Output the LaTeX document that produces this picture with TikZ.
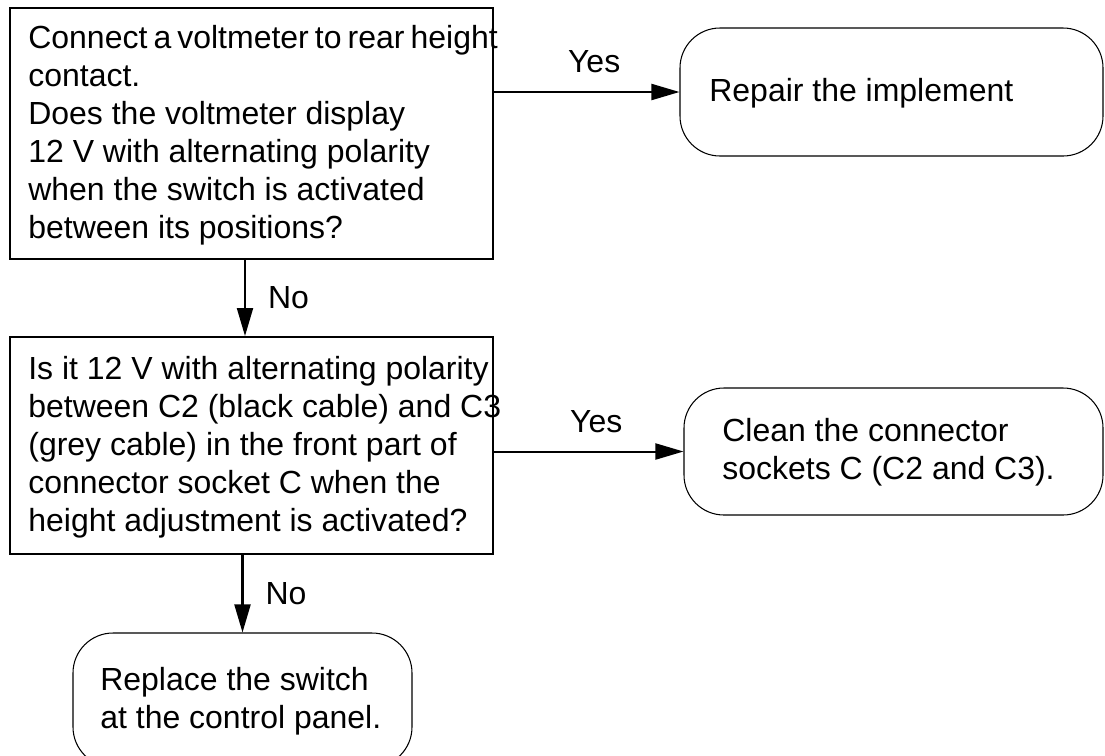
\documentclass[tikz,border=0pt]{standalone}
\usepackage{fontspec}
\setmainfont{Liberation Sans}
\usetikzlibrary{arrows.meta}
\newcommand\pu{0.02cm}
\newcommand\flowfont{\fontsize{18.2}{21.6}\selectfont}
\tikzset{
  qbox/.style={draw, line width=1.1pt, minimum width=483*\pu, inner sep=0pt},
  abox/.style={draw, line width=0.6pt, rounded corners=0.8cm, inner sep=0pt},
  txt/.style={anchor=west, align=left, inner sep=0pt, font=\flowfont},
  lbl/.style={inner sep=0pt, font=\flowfont},
  flow/.style={line width=1.15pt, -{Triangle[length=0.56cm,width=0.32cm]}}
}

\begin{document}
\begin{tikzpicture}[x=\pu, y=-\pu]
  \clip (0,0) rectangle (1105,755);
  % the two questions
  \node[qbox, minimum height=251*\pu] (q1) at (251.5,133.5) {};
  \node[txt] (q1t) at (28,135) {{\spaceskip=0.19em Connect a voltmeter to rear height}\\contact.\\Does the voltmeter display\\12 V with alternating polarity\\when the switch is activated\\between its positions?};
  \node[qbox, minimum height=217*\pu] (q2) at (251.5,445.5) {};
  \node[txt] (q2t) at (28,447) {Is it 12 V with alternating polarity\\between C2 (black cable) and C3\\(grey cable) in the front part of\\connector socket C when the\\height adjustment is activated?};
  % what to do
  \node[abox, minimum width=423*\pu, minimum height=128*\pu] (a1) at (891.5,92) {};
  \node[txt] (a1t) at (709,93) {Repair the implement};
  \node[abox, minimum width=419*\pu, minimum height=127*\pu] (a2) at (893.5,451.5) {};
  \node[txt] (a2t) at (722,452) {Clean the connector\\sockets C (C2 and C3).};
  \node[abox, minimum width=339*\pu, minimum height=134*\pu] (a3) at (242.5,700) {};
  \node[txt] (a3t) at (100,701) {Replace the switch\\at the control panel.};
  % yes to the right, no downwards
  \draw[flow] (a1.west -| q1.east) -- node[lbl, pos=0.54, yshift=0.6cm] {Yes} (a1.west);
  \draw[flow] (a2.west -| q2.east) -- node[lbl, pos=0.54, yshift=0.6cm] {Yes} (a2.west);
  \draw[flow] ([xshift=-0.13cm]q1.south) -- node[lbl, midway, anchor=west, xshift=0.44cm] {No} ([xshift=-0.13cm]q2.north);
  \draw[flow] (q2.south -| a3.north) -- node[lbl, midway, anchor=west, xshift=0.44cm] {No} (a3.north);
\end{tikzpicture}
\end{document}
